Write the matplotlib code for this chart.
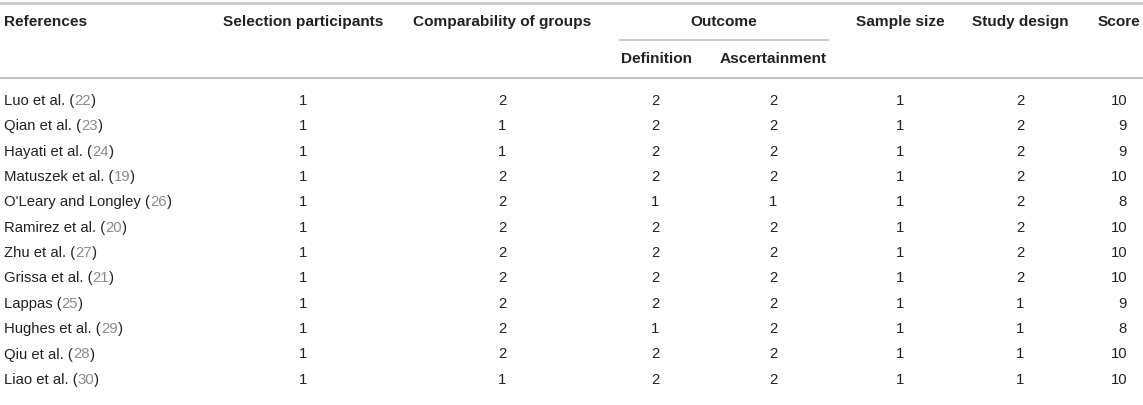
import matplotlib.pyplot as plt

plt.rcParams['font.family'] = ['Liberation Sans', 'DejaVu Sans']

# table content
refs = ["Luo et al.", "Qian et al.", "Hayati et al.", "Matuszek et al.",
        "O'Leary and Longley", "Ramirez et al.", "Zhu et al.", "Grissa et al.",
        "Lappas", "Hughes et al.", "Qiu et al.", "Liao et al."]
ref_nums = [22, 23, 24, 19, 26, 20, 27, 21, 25, 29, 28, 30]
selection = [1, 1, 1, 1, 1, 1, 1, 1, 1, 1, 1, 1]
comparability = [2, 1, 1, 2, 2, 2, 2, 2, 2, 2, 2, 1]
definition = [2, 2, 2, 2, 1, 2, 2, 2, 2, 1, 2, 2]
ascertainment = [2, 2, 2, 2, 1, 2, 2, 2, 2, 2, 2, 2]
sample_size = [1, 1, 1, 1, 1, 1, 1, 1, 1, 1, 1, 1]
study_design = [2, 2, 2, 2, 2, 2, 2, 2, 1, 1, 1, 1]
score = [10, 9, 9, 10, 8, 10, 10, 10, 9, 8, 10, 10]

W, H = 1143, 405
fig = plt.figure(figsize=(W / 100, H / 100), dpi=100)
ax = fig.add_axes([0, 0, 1, 1])
ax.set_xlim(0, W)
ax.set_ylim(H, 0)
ax.axis('off')

fs = 10.7
fsb = 11.1
txt = '#222222'
gray = '#8a8a8a'
rule = '#c4c4c4'

# rules
ax.plot([0, W], [3, 3], color=rule, lw=1.8)
ax.plot([620, 828], [40, 40], color=rule, lw=1.3)
ax.plot([0, W], [78, 78], color=rule, lw=1.5)

# header
hy, sy = 22, 59
bold = dict(fontsize=fsb, fontweight='bold', color=txt, va='center')
ax.text(4, hy, 'References', ha='left', **bold)
cols = [('Selection participants', 303, selection),
        ('Comparability of groups', 502, comparability),
        ('Sample size', 900, sample_size),
        ('Study design', 1020, study_design)]
for name, x, _ in cols:
    ax.text(x, hy, name, ha='center', **bold)
ax.text(724, hy, 'Outcome', ha='center', **bold)
ax.text(656, sy, 'Definition', ha='center', **bold)
ax.text(773, sy, 'Ascertainment', ha='center', **bold)
ax.text(1098, hy, 'Score', ha='left', **bold)

cols += [('Definition', 655, definition), ('Ascertainment', 773, ascertainment)]

# body rows
y0, dy = 101, 25.35
for i, ref in enumerate(refs):
    y = y0 + i * dy
    t = ax.text(4, y, ref + ' (', ha='left', va='center', fontsize=fs, color=txt)
    t2 = ax.annotate(str(ref_nums[i]), xy=(1, 0), xycoords=t, ha='left', va='bottom',
                     fontsize=fs, color=gray)
    ax.annotate(')', xy=(1, 0), xycoords=t2, ha='left', va='bottom',
                fontsize=fs, color=txt)
    for _, x, vals in cols:
        ax.text(x, y, str(vals[i]), ha='center', va='center', fontsize=fs, color=txt)
    ax.text(1127, y, str(score[i]), ha='right', va='center', fontsize=fs, color=txt)

fig.savefig('out.png', dpi=100)
